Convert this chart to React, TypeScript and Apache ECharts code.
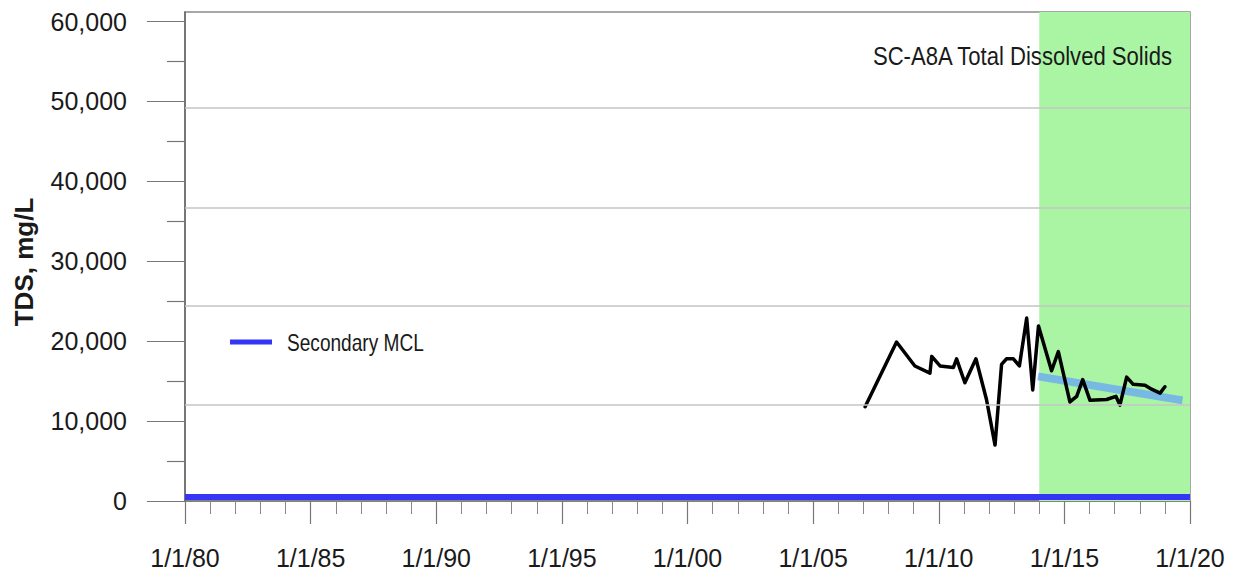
import React, { useEffect, useRef } from "react";
import * as echarts from "echarts";

// ---- data ----
const sampleYears = [
  2007.07, 2008.32, 2009.05, 2009.65, 2009.72, 2010.05, 2010.58, 2010.71, 2010.85,
  2011.04, 2011.48, 2011.9, 2012.24, 2012.5, 2012.7, 2012.97, 2013.21, 2013.5,
  2013.74, 2013.97, 2014.49, 2014.76, 2015.22, 2015.49, 2015.73, 2016.02, 2016.68,
  2017.05, 2017.21, 2017.48, 2017.74, 2018.21, 2018.47, 2018.81, 2019.0,
];
const tdsValues = [
  11800, 19900, 16900, 16000, 18100, 16900, 16700, 17800, 16500,
  14800, 17800, 12700, 7000, 17100, 17800, 17800, 16900, 22900,
  13900, 21900, 16300, 18700, 12400, 13100, 15200, 12600, 12700,
  13100, 12000, 15500, 14600, 14500, 14000, 13500, 14300,
];
const trendYears = [2013.95, 2019.7];
const trendValues = [15600, 12600];
const mclYears = [1980, 2020];
const mclValues = [500, 500];
const bandYears = [2014, 2020];
const gridValues = [12050, 24470, 36760, 49180];
const yTickValues = [0, 10000, 20000, 30000, 40000, 50000, 60000];
const yMinorTickValues = [5000, 15000, 25000, 35000, 45000, 55000];
const chartTitle = "SC-A8A Total Dissolved Solids";
const yAxisTitle = "TDS, mg/L";
const mclLabel = "Secondary MCL";

const SANS = '"Liberation Sans", Arial, sans-serif';

export default function App() {
  const ref = useRef<HTMLDivElement>(null);
  useEffect(() => {
    if (!ref.current) return;
    const chart = echarts.init(ref.current, null, { renderer: "svg" });
    const yMax = 61200;
    chart.setOption({
      animation: false,
      backgroundColor: "#ffffff",
      grid: {
        left: 185,
        right: 56,
        top: 12,
        bottom: 76,
        show: true,
        borderColor: "#8a8a8a",
        borderWidth: 1.5,
        backgroundColor: "transparent",
      },
      xAxis: {
        type: "value",
        min: 1980,
        max: 2020,
        interval: 5,
        axisLine: { show: true, lineStyle: { color: "#777", width: 1.5 } },
        axisTick: { show: true, inside: false, length: 23, lineStyle: { color: "#777", width: 1.2 } },
        minorTick: { show: true, splitNumber: 5, length: 13, lineStyle: { color: "#888", width: 1 } },
        splitLine: { show: false },
        axisLabel: {
          margin: 44,
          fontSize: 25,
          fontFamily: SANS,
          color: "#1a1a1a",
          formatter: (v: number) => "1/1/" + String(Math.round(v) % 100).padStart(2, "0"),
        },
      },
      yAxis: [
        {
          type: "value",
          position: "left",
          min: 0,
          max: yMax,
          axisLine: { show: true, lineStyle: { color: "#666", width: 1.5 } },
          axisTick: { show: true, length: 38, customValues: yTickValues, lineStyle: { color: "#777", width: 1.2 } },
          axisLabel: {
            customValues: yTickValues,
            margin: 58,
            fontSize: 25,
            fontFamily: SANS,
            color: "#1a1a1a",
            formatter: (v: number) => v.toLocaleString("en-US"),
          },
          splitLine: { show: false },
        },
        {
          type: "value",
          position: "left",
          min: 0,
          max: yMax,
          axisLine: { show: false },
          axisTick: { show: true, length: 18, customValues: yMinorTickValues, lineStyle: { color: "#777", width: 1.2 } },
          axisLabel: { show: false },
          splitLine: { show: false },
        },
      ],
      graphic: [
        {
          type: "text",
          x: 24,
          y: 262,
          rotation: Math.PI / 2,
          style: {
            text: yAxisTitle,
            align: "center",
            verticalAlign: "middle",
            fontSize: 26,
            fontWeight: "bold",
            fontFamily: SANS,
            fill: "#1a1a1a",
          },
          z: 10,
        },
        {
          type: "text",
          x: 1172,
          y: 56,
          scaleX: 0.85,
          style: {
            text: chartTitle,
            align: "right",
            verticalAlign: "middle",
            fontSize: 26,
            fontFamily: SANS,
            fill: "#1a1a1a",
          },
          z: 10,
        },
        {
          type: "line",
          shape: { x1: 230, y1: 342, x2: 272, y2: 342 },
          style: { stroke: "#3535f5", lineWidth: 5 },
          z: 10,
        },
        {
          type: "text",
          x: 287,
          y: 343,
          scaleX: 0.83,
          style: {
            text: mclLabel,
            align: "left",
            verticalAlign: "middle",
            fontSize: 23,
            fontFamily: SANS,
            fill: "#1a1a1a",
          },
          z: 10,
        },
      ],
      series: [
        {
          name: "band",
          type: "line",
          data: [],
          z: 0,
          silent: true,
          markArea: {
            silent: true,
            itemStyle: { color: "#aaf5a4", opacity: 1 },
            data: [[{ xAxis: bandYears[0] }, { xAxis: bandYears[1] }]],
          },
          markLine: {
            silent: true,
            symbol: ["none", "none"],
            label: { show: false },
            lineStyle: { color: "#c4c4c4", width: 1.5, type: "solid" },
            data: gridValues.map((v) => ({ yAxis: v })),
          },
        },
        {
          name: mclLabel,
          type: "line",
          data: mclYears.map((y, i) => [y, mclValues[i]]),
          symbol: "none",
          lineStyle: { color: "#3535f5", width: 6 },
          z: 3,
        },
        {
          name: "Trend",
          type: "line",
          data: trendYears.map((y, i) => [y, trendValues[i]]),
          symbol: "none",
          lineStyle: { color: "#72b2ea", width: 8, opacity: 0.9 },
          z: 3,
        },
        {
          name: "TDS",
          type: "line",
          data: sampleYears.map((y, i) => [y, tdsValues[i]]),
          symbol: "none",
          lineStyle: { color: "#000000", width: 3.5, join: "round", cap: "round" },
          z: 4,
        },
      ],
    });
    return () => chart.dispose();
  }, []);
  return (
    <div
      ref={ref}
      style={{ position: "fixed", left: 0, top: 0, width: 1246, height: 577, background: "#fff" }}
    />
  );
}
